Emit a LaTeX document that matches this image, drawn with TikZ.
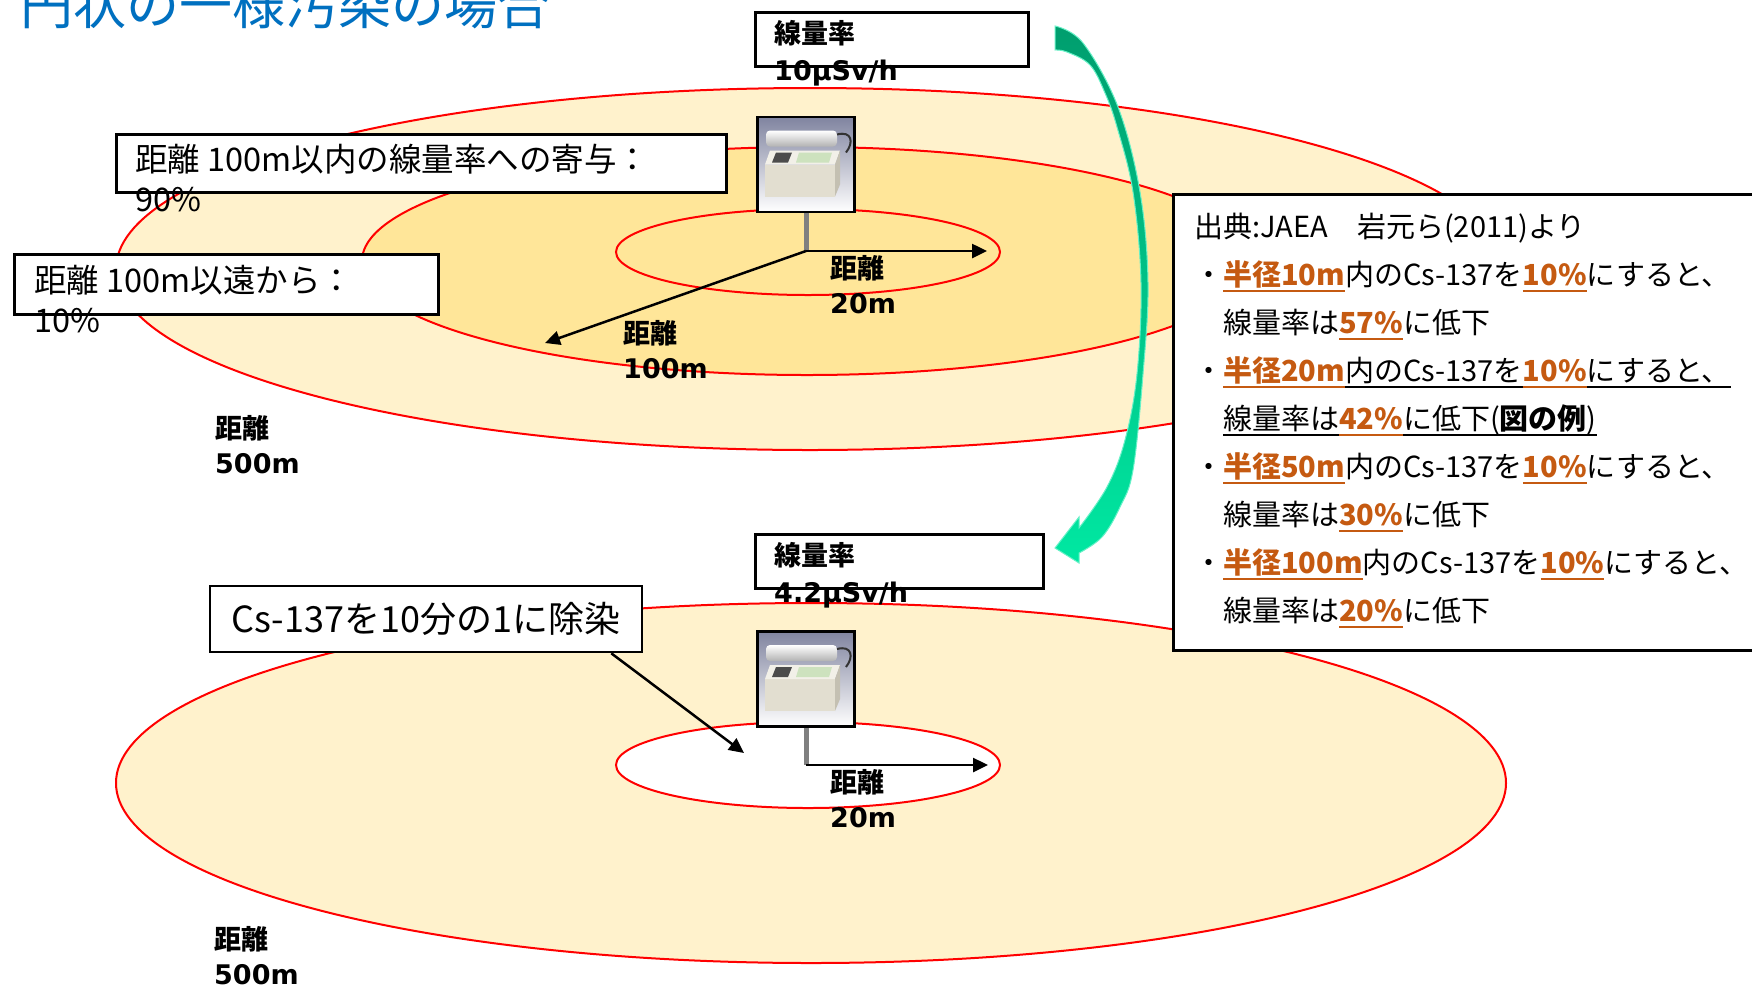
\documentclass[tikz,border=0pt]{standalone}
\usepackage{fontspec}
\setmainfont{Noto Sans CJK JP}
\newfontfamily\vd{DejaVu Sans}
\usetikzlibrary{arrows.meta}

\definecolor{ringred}{RGB}{255,0,0}
\definecolor{palegold}{RGB}{255,242,204}
\definecolor{gold}{RGB}{255,230,153}
\definecolor{ttlblue}{RGB}{0,112,192}
\definecolor{accent}{RGB}{197,90,17}
\definecolor{grdark}{RGB}{0,158,110}
\definecolor{grlight}{RGB}{0,232,162}
\definecolor{polegray}{RGB}{128,128,128}
\definecolor{mtbg}{RGB}{128,132,160}
\definecolor{cream}{RGB}{226,222,208}
\definecolor{creamlt}{RGB}{242,240,232}
\definecolor{creamdk}{RGB}{196,192,178}
\definecolor{panel}{RGB}{205,226,190}

\newcommand\fsTitle{\fontsize{53pt}{60pt}\selectfont}
\newcommand\fsBox{\fontsize{32.5pt}{40pt}\selectfont}
\newcommand\fsCs{\fontsize{36pt}{40pt}\selectfont}
\newcommand\fsLbl{\fontsize{27pt}{35pt}\selectfont}
\newcommand\fsRate{\fontsize{27pt}{37pt}\selectfont}
\newcommand\fsNote{\fontsize{29pt}{48pt}\selectfont}
% underline in the current colour
\newcommand\undl[1]{\setbox0\hbox{#1}\rlap{\rule[-6pt]{\wd0}{2pt}}\box0}
\newcommand\ulo[1]{{\color{accent}\bfseries\undl{#1}}}

\begin{document}
\begin{tikzpicture}[x=1pt, y=-1pt,
  ring/.style={draw=ringred, line width=2pt},
  tagbox/.style={draw, line width=2.5pt, fill=white, inner sep=0pt},
  txt/.style={inner sep=0pt, align=left, anchor=west},
  dist/.style={txt, font=\fsLbl\bfseries},
  arr/.style={line width=2.5pt, -{Triangle[length=15pt, width=14pt]}},
  pole/.style={draw=polegray, line width=5pt},
  meterbox/.style={draw, line width=2.5pt, minimum width=97pt, minimum height=95pt,
    inner sep=0pt, top color=mtbg, bottom color=white},
  meter/.pic={
    \fill[cream] (-41,0) rectangle (29,32);
    \fill[creamlt] (-41,0) -- (-36,-14) -- (34,-14) -- (29,0) -- cycle;
    \fill[creamdk] (29,0) -- (34,-14) -- (34,20) -- (29,32) -- cycle;
    \fill[black!70] (-34,-2) -- (-30,-12) -- (-14,-12) -- (-18,-2) -- cycle;
    \fill[panel] (-10,-2) -- (-7,-12) -- (26,-12) -- (23,-2) -- cycle;
    \shade[top color=white, bottom color=gray!60, rounded corners=4pt] (-40,-34) rectangle (31,-18);
    \draw[black!80, line width=2pt] (31,-30) .. controls (46,-34) and (48,-22) .. (40,-12);
  }]
\useasboundingbox (0,0) rectangle (1752,989);
\fill[white] (0,0) rectangle (1752,989);
\clip (0,0) rectangle (1752,989);

\node[anchor=base west, inner sep=0pt, text=ttlblue, font=\fsTitle] (title) at (20,24) {円状の一様汚染の場合};

% upper case: before decontamination
\filldraw[ring, fill=palegold] (810,269) ellipse [x radius=694pt, y radius=181pt];
\filldraw[ring, fill=gold] (807,261) ellipse [x radius=445pt, y radius=114pt];
\filldraw[ring, fill=gold] (808,252) ellipse [x radius=192pt, y radius=43pt];

\node[tagbox, minimum width=273pt, minimum height=54pt, anchor=north west] (rateA) at (754,11) {};
\node[txt, font=\fsRate] (rateAtxt) at (774,53) {{\bfseries 線量率}\\{\vd\bfseries 10μSv/h}};
\node[tagbox, minimum width=610pt, minimum height=58pt, anchor=north west] (near) at (115,133) {};
\node[txt, font=\fsBox] (neartxt) at (135,178) {距離 100m以内の線量率への寄与：\\90\%};
\node[tagbox, minimum width=424pt, minimum height=60pt, anchor=north west] (far) at (13,253) {};
\node[txt, font=\fsBox] (fartxt) at (34,299) {距離 100m以遠から：\\10\%};

\node[meterbox] (mtA) at (806,164.5) {};
\pic at (mtA) {meter};
\coordinate (footA) at (806,251);
\coordinate (r20A) at (987,251);
\coordinate (r100A) at (545,343);
\draw[pole] (mtA.south) -- (footA);
\draw[arr] (footA) -- (r20A);
\draw[arr] (footA) -- (r100A);

\node[dist] (d20A) at (830,285) {距離\\{\vd\bfseries 20m}};
\node[dist] (d100A) at (623,350) {距離\\{\vd\bfseries 100m}};
\node[dist] (d500A) at (215,445) {距離\\{\vd\bfseries 500m}};

% lower case: after decontamination
\filldraw[ring, fill=palegold] (811,783) ellipse [x radius=695pt, y radius=180pt];
\filldraw[ring, fill=white] (808,765) ellipse [x radius=192pt, y radius=43pt];

\node[tagbox, minimum width=288pt, minimum height=54pt, anchor=north west] (rateB) at (754,533) {};
\node[txt, font=\fsRate] (rateBtxt) at (774,575) {{\bfseries 線量率}\\{\vd\bfseries 4.2μSv/h}};
\node[tagbox, minimum width=432pt, minimum height=66pt, font=\fsCs] (cs) at (426,619) {Cs-137を10分の1に除染};

\node[meterbox] (mtB) at (806,679) {};
\pic at (mtB) {meter};
\coordinate (footB) at (806,765);
\coordinate (r20B) at (988,765);
\coordinate (csend) at (744,753);
\draw[pole] (mtB.south) -- (footB);
\draw[arr] (footB) -- (r20B);
\draw[arr] ([xshift=-32pt]cs.south east) -- (csend);

\node[dist] (d20B) at (830,799) {距離\\{\vd\bfseries 20m}};
\node[dist] (d500B) at (214,956) {距離\\{\vd\bfseries 500m}};

% curved arrow from upper to lower case
\shade[top color=grdark, bottom color=grlight, draw=grlight!60!white, line width=1pt]
  (1055,26) -- plot[smooth, tension=0.6] coordinates {(1055,26) (1083,43) (1118,107) (1140,192) (1148,283) (1143,374) (1133,470) (1120,507) (1102,537) (1079,553)}
  -- (1079,563) -- (1055,548) -- (1079,517) -- (1079,528)
  -- plot[smooth, tension=0.6] coordinates {(1079,528) (1107,487) (1125,440) (1137,374) (1141,283) (1133,192) (1117,127) (1105,93) (1090,65) (1067,52) (1055,50)}
  -- cycle;

% source notes
\node[tagbox, minimum width=620pt, minimum height=456pt, anchor=north west] (srcbox) at (1172,193) {};
\node[inner sep=0pt, align=left, anchor=north west, font=\fsNote] (src) at (1194,213) {出典:JAEA　岩元ら(2011)より\\
・\ulo{半径10m}内のCs-137を\ulo{10\%}にすると、\\
　線量率は\ulo{57\%}に低下\\
・\ulo{半径20m}\undl{内のCs-137を}\ulo{10\%}\undl{にすると、}\\
　\undl{線量率は}\ulo{42\%}\undl{に低下(}\undl{\bfseries 図の例}\undl{)}\\
・\ulo{半径50m}内のCs-137を\ulo{10\%}にすると、\\
　線量率は\ulo{30\%}に低下\\
・\ulo{半径100m}内のCs-137を\ulo{10\%}にすると、\\
　線量率は\ulo{20\%}に低下};
\end{tikzpicture}
\end{document}
